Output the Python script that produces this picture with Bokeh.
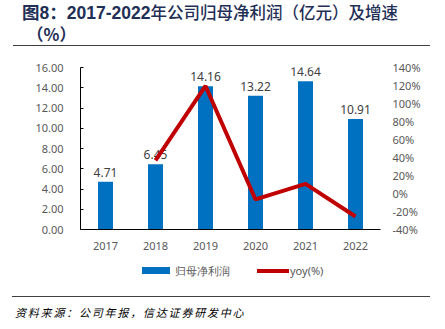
from bokeh.plotting import figure
from bokeh.models import (ColumnDataSource, Range1d, LinearAxis,
                          PrintfTickFormatter, NumeralTickFormatter, FixedTicker, Div)
from bokeh.layouts import column
from bokeh.core.properties import value
from bokeh.embed import file_html
from bokeh.resources import INLINE

years = ["2017", "2018", "2019", "2020", "2021", "2022"]
profit = [4.71, 6.45, 14.16, 13.22, 14.64, 10.91]
yoy_years = ["2018", "2019", "2020", "2021", "2022"]
yoy = [36.9, 119.5, -6.6, 10.7, -25.5]
left_ticks = [0, 2, 4, 6, 8, 10, 12, 14, 16]
right_ticks = [-40, -20, 0, 20, 40, 60, 80, 100, 120, 140]
title_bold = "图8：2017-2022"
title_rest = "年公司归母净利润（亿元）及增速"
title_line2 = "（%）"
legend_labels = ["归母净利润", "yoy(%)"]
source_note = "资料来源：公司年报，信达证券研发中心"

BAR_COLOR = "#0070C0"
LINE_COLOR = "#C00000"
TICK_FONT = "Noto Sans"
W = 445
TITLE_H = 48
FIG_H = 210
FOOT_H = 329 - TITLE_H - FIG_H

tcol = "#1F2F56"
title_div = Div(width=W, height=TITLE_H, margin=0, text=f"""
<div style="position:relative;width:{W}px;height:{TITLE_H}px;font-family:'Noto Sans CJK SC';color:{tcol};">
  <div style="position:absolute;left:22px;top:2px;font-size:16.5px;line-height:20px;white-space:nowrap;">
    <b style="font-family:'Liberation Sans','Noto Sans CJK SC';font-size:17.5px;">{title_bold}</b><span style="font-weight:500">{title_rest}</span></div>
  <div style="position:absolute;left:27px;top:24px;font-size:16.5px;line-height:20px;font-weight:bold;white-space:nowrap;">{title_line2}</div>
  <div style="position:absolute;left:13px;top:45px;width:417px;height:0;border-top:1.5px solid #404040;"></div>
</div>""")

foot_div = Div(width=W, height=FOOT_H, margin=0, text=f"""
<div style="position:relative;width:{W}px;height:{FOOT_H}px;font-family:'Noto Sans';font-size:11px;color:#595959;">
  <div style="position:absolute;left:142px;top:9px;width:28px;height:7px;background:{BAR_COLOR};"></div>
  <div style="position:absolute;left:175px;top:5px;line-height:16px;white-space:nowrap;">{legend_labels[0]}</div>
  <div style="position:absolute;left:257px;top:11px;width:32px;height:3.5px;background:{LINE_COLOR};"></div>
  <div style="position:absolute;left:290px;top:5px;line-height:16px;white-space:nowrap;">{legend_labels[1]}</div>
  <div style="position:absolute;left:12px;top:38px;width:418px;height:0;border-top:1px solid #404040;"></div>
  <div style="position:absolute;left:15px;top:47px;font-family:'Noto Sans CJK SC';font-size:11px;line-height:15px;letter-spacing:1.8px;font-style:italic;color:#000;white-space:nowrap;">{source_note}</div>
</div>""")

p = figure(width=W, height=FIG_H, x_range=years, y_range=Range1d(0, 16),
           output_backend="svg", toolbar_location=None,
           min_border_left=80, min_border_right=65, min_border_top=19, min_border_bottom=29)
p.outline_line_color = None
p.xgrid.grid_line_color = None
p.ygrid.grid_line_color = None
p.x_range.range_padding = 0
p.extra_y_ranges = {"pct": Range1d(-40, 140)}

src = ColumnDataSource(dict(x=years, top=profit, lab=[f"{v:.2f}" for v in profit]))
p.vbar(x="x", top="top", width=0.3, source=src, fill_color=BAR_COLOR, line_color=None)
p.text(x="x", y="top", text="lab", source=src, text_align="center", text_baseline="bottom",
       y_offset=-5, text_font=value(TICK_FONT), text_font_size="12px", text_color="#404040")

p.line(x=yoy_years, y=yoy, y_range_name="pct", line_color=LINE_COLOR, line_width=4)

ya = p.yaxis[0]
ya.ticker = FixedTicker(ticks=left_ticks)
ya.formatter = NumeralTickFormatter(format="0.00")
ya.axis_line_color = "black"
ya.major_tick_line_color = "black"
ya.major_tick_in = 3
ya.major_tick_out = 0
ya.minor_tick_line_color = None
ya.major_label_text_font = TICK_FONT
ya.major_label_text_font_size = "11px"
ya.major_label_text_color = "#595959"
ya.major_label_standoff = 17

ra = LinearAxis(y_range_name="pct", ticker=FixedTicker(ticks=right_ticks),
                formatter=PrintfTickFormatter(format="%d%%"))
ra.axis_line_color = None
ra.major_tick_line_color = None
ra.major_tick_in = 0
ra.major_tick_out = 0
ra.minor_tick_line_color = None
ra.major_label_text_font = TICK_FONT
ra.major_label_text_font_size = "11px"
ra.major_label_text_color = "#595959"
ra.major_label_standoff = 12
p.add_layout(ra, "right")

xa = p.xaxis[0]
xa.axis_line_color = "black"
xa.major_tick_line_color = None
xa.major_tick_in = 0
xa.major_tick_out = 0
xa.minor_tick_line_color = None
xa.major_label_text_font = TICK_FONT
xa.major_label_text_font_size = "11px"
xa.major_label_text_color = "#595959"
xa.major_label_standoff = 12

layout = column(title_div, p, foot_div, spacing=0)
open("out.html", "w").write(file_html(layout, INLINE))
